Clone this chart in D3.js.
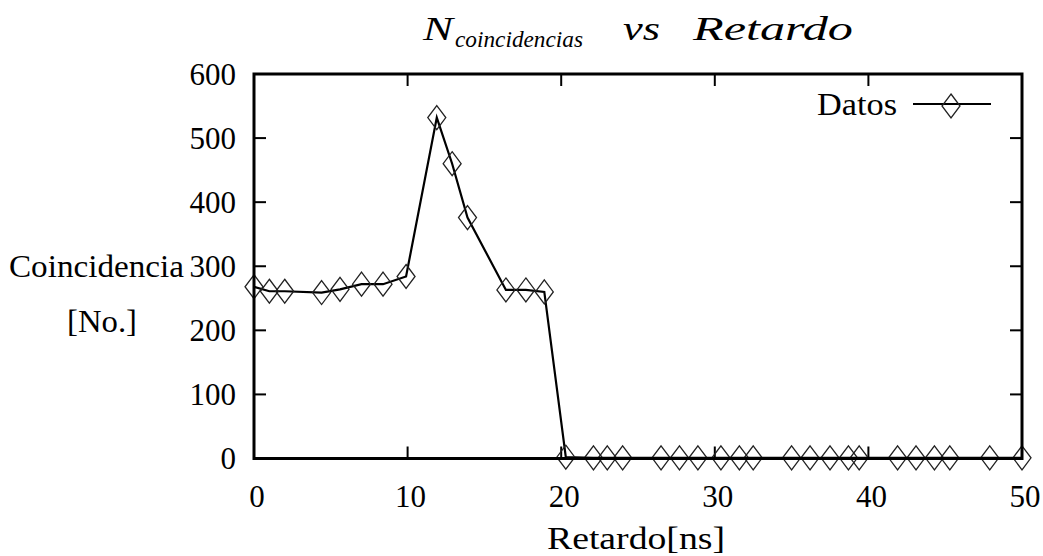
<!DOCTYPE html>
<html>
<head>
<meta charset="utf-8">
<script src="https://cdn.jsdelivr.net/npm/d3@7"></script>
<style>
  html, body { margin: 0; padding: 0; background: #fff; }
  svg { display: block; }
</style>
</head>
<body>
<svg id="chart" width="1043" height="556" font-family="'Liberation Serif', 'Times New Roman', 'DejaVu Serif', serif"></svg>
<script>
// ---- data ----
const retardo = [0, 1, 2, 4.4, 5.6, 7, 8.4, 9.9, 11.9, 12.9, 13.9, 16.4, 17.7, 18.9,
  20.3, 22.1, 23, 24, 26.5, 27.7, 28.9, 30.4, 31.6, 32.5, 35, 36.2, 37.5, 38.7, 39.4,
  41.9, 43.1, 44.3, 45.3, 47.9, 50];
const coincidencias = [268, 261, 261, 259, 264, 272, 272, 284, 532, 460, 376, 263, 263, 260,
  2, 1, 1, 1, 1, 1, 1, 1, 1, 1, 1, 1, 1, 1, 1,
  1, 1, 1, 1, 1, 1];
const xTicks = [0, 10, 20, 30, 40, 50];
const yTicks = [0, 100, 200, 300, 400, 500, 600];
const seriesName = "Datos";
const xLabel = "Retardo[ns]";
const yLabel1 = "Coincidencia";
const yLabel2 = "[No.]";

// ---- layout ----
const FONT = "'Liberation Serif', 'Times New Roman', 'DejaVu Serif', serif";
const svg = d3.select("#chart");
const L = 254, R = 1022, T = 74, B = 458.5;
const x = d3.scaleLinear().domain([0, 50]).range([L, R]);
const y = d3.scaleLinear().domain([0, 600]).range([B, T]);
const FS = 31;

const data = retardo.map((d, i) => ({x: d, y: coincidencias[i]}));

const txt = () => svg.append("text").attr("font-family", FONT).attr("fill", "#000");

// ticks (inward on all four sides)
const tickLen = 12;
const g = svg.append("g").attr("stroke", "#000").attr("stroke-width", 2);
g.selectAll("line.xt").data(xTicks).enter().append("line")
  .attr("x1", d => x(d)).attr("x2", d => x(d)).attr("y1", B).attr("y2", B - tickLen);
g.selectAll("line.xtt").data(xTicks).enter().append("line")
  .attr("x1", d => x(d)).attr("x2", d => x(d)).attr("y1", T).attr("y2", T + tickLen);
g.selectAll("line.yt").data(yTicks).enter().append("line")
  .attr("x1", L).attr("x2", L + tickLen).attr("y1", d => y(d)).attr("y2", d => y(d));
g.selectAll("line.ytr").data(yTicks).enter().append("line")
  .attr("x1", R).attr("x2", R - tickLen).attr("y1", d => y(d)).attr("y2", d => y(d));

// tick labels
svg.selectAll("text.xl").data(xTicks).enter().append("text")
  .attr("font-family", FONT)
  .attr("x", d => x(d) + 3).attr("y", 507)
  .attr("text-anchor", "middle").attr("font-size", FS)
  .text(d => d);
svg.selectAll("text.yl").data(yTicks).enter().append("text")
  .attr("font-family", FONT)
  .attr("x", 236).attr("y", d => y(d) + 10.5)
  .attr("text-anchor", "end").attr("font-size", FS)
  .text(d => d);

// data line
const line = d3.line().x(d => x(d.x)).y(d => y(d.y));
svg.append("path").datum(data)
  .attr("d", line).attr("fill", "none")
  .attr("stroke", "#000").attr("stroke-width", 2.2).attr("stroke-linejoin", "miter");

// diamond markers
const dw = 9, dh = 12;
const diamond = (cx, cy) => `M${cx},${cy - dh}L${cx + dw},${cy}L${cx},${cy + dh}L${cx - dw},${cy}Z`;
svg.selectAll("path.pt").data(data).enter().append("path")
  .attr("d", d => diamond(x(d.x), y(d.y)))
  .attr("fill", "none").attr("stroke", "#222").attr("stroke-width", 1.3);

// frame
svg.append("rect").attr("x", L).attr("y", T).attr("width", R - L).attr("height", B - T)
  .attr("fill", "none").attr("stroke", "#000").attr("stroke-width", 3);

// legend
const ly = 104;
txt().attr("x", 897).attr("y", 115).attr("text-anchor", "end")
  .attr("font-size", FS).attr("textLength", 80).attr("lengthAdjust", "spacingAndGlyphs")
  .text(seriesName);
svg.append("line").attr("x1", 913).attr("x2", 991).attr("y1", ly).attr("y2", ly)
  .attr("stroke", "#000").attr("stroke-width", 2.2);
svg.append("path").attr("d", diamond(951, ly + 2))
  .attr("fill", "none").attr("stroke", "#222").attr("stroke-width", 1.3);

// axis titles
txt().attr("x", 547).attr("y", 549).attr("font-size", FS)
  .attr("textLength", 178).attr("lengthAdjust", "spacingAndGlyphs").text(xLabel);
txt().attr("x", 9).attr("y", 277).attr("font-size", FS)
  .attr("textLength", 175).attr("lengthAdjust", "spacingAndGlyphs").text(yLabel1);
txt().attr("x", 67).attr("y", 332).attr("font-size", FS)
  .attr("textLength", 70).attr("lengthAdjust", "spacingAndGlyphs").text(yLabel2);

// title
const ty = 40;
txt().attr("x", 423).attr("y", ty).attr("font-style", "italic").attr("font-size", 34)
  .attr("textLength", 30).attr("lengthAdjust", "spacingAndGlyphs").text("N");
txt().attr("x", 455).attr("y", ty + 7).attr("font-style", "italic").attr("font-size", 23)
  .attr("textLength", 128).attr("lengthAdjust", "spacingAndGlyphs").text("coincidencias");
txt().attr("x", 623).attr("y", ty).attr("font-style", "italic").attr("font-size", 34)
  .attr("textLength", 37).attr("lengthAdjust", "spacingAndGlyphs").text("vs");
txt().attr("x", 693).attr("y", ty).attr("font-style", "italic").attr("font-size", 34)
  .attr("textLength", 160).attr("lengthAdjust", "spacingAndGlyphs").text("Retardo");
</script>
</body>
</html>
